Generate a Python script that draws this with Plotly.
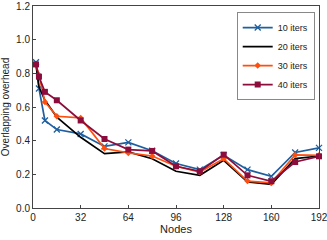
import plotly.graph_objects as go

nodes = [2, 4, 8, 16, 32, 48, 64, 80, 96, 112, 128, 144, 160, 176, 192]
iters10 = [0.866, 0.71, 0.52, 0.466, 0.44, 0.366, 0.39, 0.34, 0.264, 0.228, 0.313, 0.228, 0.188, 0.33, 0.357]
iters20 = [0.85, 0.72, 0.64, 0.54, 0.42, 0.323, 0.333, 0.293, 0.218, 0.194, 0.283, 0.155, 0.141, 0.293, 0.309]
iters30 = [0.85, 0.79, 0.63, 0.545, 0.535, 0.353, 0.327, 0.309, 0.248, 0.214, 0.293, 0.16, 0.149, 0.315, 0.313]
iters40 = [0.853, 0.78, 0.69, 0.64, 0.52, 0.41, 0.347, 0.339, 0.248, 0.218, 0.317, 0.194, 0.159, 0.273, 0.307]

names = ["10 iters", "20 iters", "30 iters", "40 iters"]
series = [iters10, iters20, iters30, iters40]
colors = ["#1f5f9f", "#000000", "#ff4f0f", "#8c0c3c"]
markers = [dict(symbol="x-thin", size=6, line=dict(width=1.3, color=colors[0])),
           None,
           dict(symbol="diamond", size=5),
           dict(symbol="square", size=6)]

fig = go.Figure()
for n, s, c, m in zip(names, series, colors, markers):
    if m is None:
        fig.add_trace(go.Scatter(x=nodes, y=s, name=n, mode="lines",
                                 line=dict(color=c, width=1.7), cliponaxis=False))
    else:
        m = dict(m)
        m["color"] = c
        fig.add_trace(go.Scatter(x=nodes, y=s, name=n, mode="lines+markers",
                                 line=dict(color=c, width=1.7), marker=m,
                                 cliponaxis=False))

font_family = "Liberation Sans, Arial"
axis_common = dict(showline=True, linecolor="#444", linewidth=1, mirror=True,
                   showgrid=False, zeroline=False, ticks="inside", ticklen=3,
                   tickcolor="#444", tickfont=dict(size=10, color="#222",
                                                   family=font_family),
                   ticklabeloverflow="allow")
fig.update_xaxes(range=[0, 192], tickmode="array",
                 tickvals=[0, 32, 64, 96, 128, 160, 192],
                 title=dict(text="Nodes", font=dict(size=11, color="#222",
                                                    family=font_family),
                            standoff=3),
                 automargin=False,
                 **axis_common)
fig.update_yaxes(range=[0, 1.2], dtick=0.2, tickformat=".1f",
                 title=dict(text="Overlapping overhead",
                            font=dict(size=10, color="#222", family=font_family),
                            standoff=5),
                 automargin=False,
                 **axis_common)
fig.update_layout(width=327, height=240,
                  margin=dict(l=33, r=8, t=6, b=32, autoexpand=False),
                  paper_bgcolor="white", plot_bgcolor="white",
                  showlegend=True,
                  legend=dict(x=0.985, y=0.97, xanchor="right", yanchor="top",
                              bgcolor="white", bordercolor="#888", borderwidth=1,
                              font=dict(size=9, color="#222", family=font_family),
                              itemwidth=30, tracegroupgap=0))
fig.write_html("out.html", config={"displayModeBar": False},
               post_script="document.body.style.margin='0';document.body.style.padding='0';")
